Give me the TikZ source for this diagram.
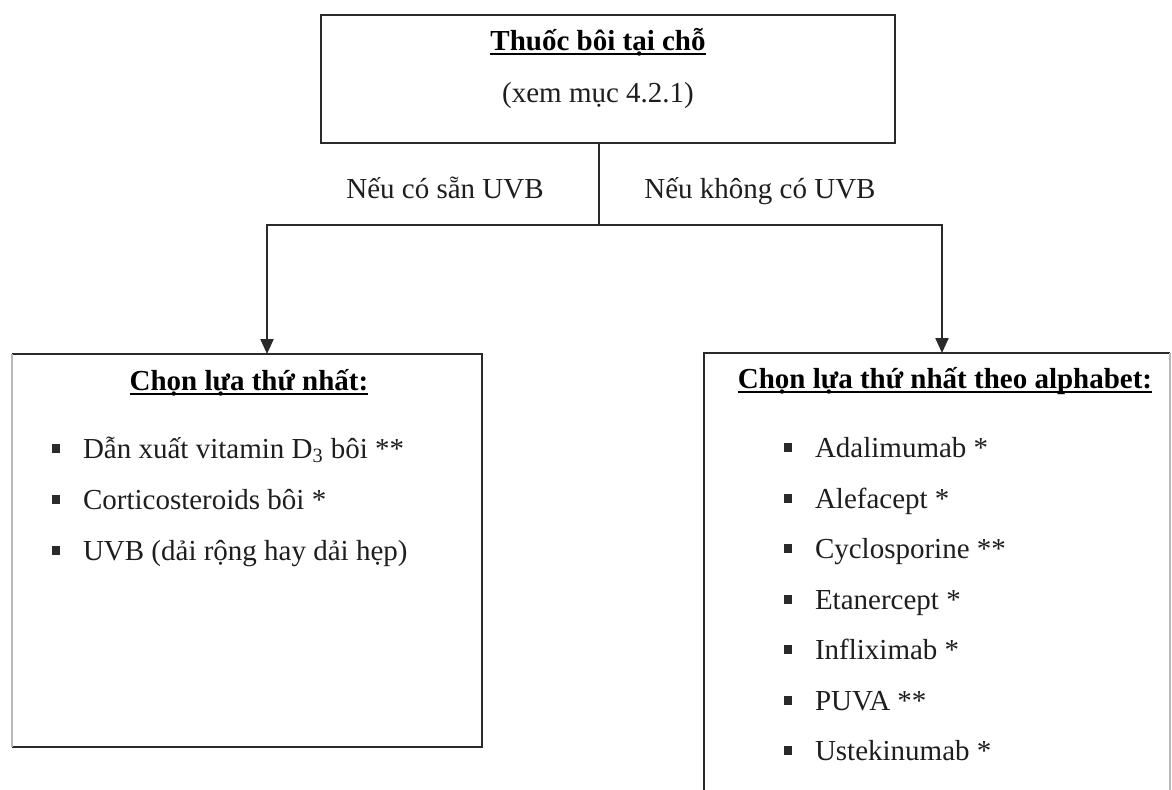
\documentclass[tikz,border=0pt]{standalone}
\usepackage{fontspec}
\setmainfont{Liberation Serif}
\usetikzlibrary{arrows.meta,calc}
\definecolor{ink}{HTML}{1E1E1E}
\definecolor{linec}{HTML}{2A2A2A}
\newcommand{\sqbul}{\llap{\textcolor{linec}{\rule[2.6pt]{4pt}{4.6pt}}\hspace{11.5pt}}}
\newsavebox{\ulbox}
\newcommand{\thickul}[1]{\sbox{\ulbox}{#1}\rlap{\rule[-2.4pt]{\wd\ulbox}{1.1pt}}\usebox{\ulbox}}
\begin{document}
\begin{tikzpicture}[x=0.5pt,y=-0.5pt,
  every node/.style={inner sep=0pt,outer sep=0pt,font=\fontsize{14.5}{17}\selectfont,text=ink},
  boxc/.style={draw=linec,line width=1.1pt},
  wire/.style={draw=linec,line width=1.1pt},
  arr/.style={wire,-{Triangle[width=6.5pt,length=7.5pt]}},
  faint/.style={draw=gray!55,line width=0.8pt},
  ttl/.style={anchor=base,font=\fontsize{14.5}{17}\selectfont\bfseries,text=black},
  item/.style={anchor=base west}]
\useasboundingbox (0,0) rectangle (1172,789);
\clip (0,0) rectangle (1172,789);

% boxes
\node[boxc,minimum width=287pt,minimum height=64pt] (top) at (608,79) {};
\node[minimum width=235pt,minimum height=196.5pt] (left) at (247,550.5) {};
\node[minimum width=233pt,minimum height=223.5pt] (right) at (937,576.5) {};

\draw[boxc] (left.north west) -- (left.north east) -- (left.south east) -- (left.south west);
\draw[faint] (left.south west) -- (left.north west);
\draw[boxc] (right.south west) -- (right.north west) -- (right.north east);
\draw[faint] (right.north east) -- (right.south east);

% connectors
\coordinate (split) at (599,225);
\draw[wire] (top.south -| split) -- (split);
\draw[arr] (split) -| ($(left.north)+(20,0)$);
\draw[arr] (split) -| ($(right.north)+(5,0)$);

% top texts
\node[ttl] (t1) at (598,50) {\thickul{Thuốc bôi tại chỗ}};
\node[anchor=base] (t2) at (598,102) {(xem mục 4.2.1)};

% labels
\node[anchor=base] (lab1) at (445,198) {Nếu có sẵn UVB};
\node[anchor=base] (lab2) at (760,198) {Nếu không có UVB};

% left box
\node[ttl] (lt) at (249,390) {\thickul{Chọn lựa thứ nhất:}};
\node[item] (l1) at (83,458) {\sqbul Dẫn xuất vitamin D\textsubscript{3} bôi **};
\node[item] (l2) at (83,509) {\sqbul Corticosteroids bôi *};
\node[item] (l3) at (83,560) {\sqbul UVB (dải rộng hay dải hẹp)};

% right box
\node[ttl] (rt) at (945,388) {\thickul{Chọn lựa thứ nhất theo alphabet:}};
\node[item] (r1) at (815,457) {\sqbul Adalimumab *};
\node[item] (r2) at (815,508) {\sqbul Alefacept *};
\node[item] (r3) at (815,558) {\sqbul Cyclosporine **};
\node[item] (r4) at (815,609) {\sqbul Etanercept *};
\node[item] (r5) at (815,659) {\sqbul Infliximab *};
\node[item] (r6) at (815,710) {\sqbul PUVA **};
\node[item] (r7) at (815,760) {\sqbul Ustekinumab *};
\end{tikzpicture}
\end{document}
